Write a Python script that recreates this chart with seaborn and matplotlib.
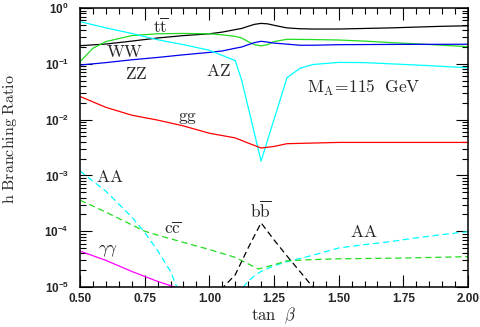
import numpy as np
import matplotlib
matplotlib.use("Agg")
import matplotlib.pyplot as plt
from matplotlib.ticker import MultipleLocator, LogLocator, NullFormatter, FormatStrFormatter
import seaborn as sns

# h branching ratios vs tan(beta), M_A = 115 GeV
tt_x = [0.50, 0.60, 0.70, 0.80, 0.90, 1.00, 1.05, 1.10, 1.125, 1.15, 1.175, 1.20, 1.225, 1.25, 1.30, 1.35, 1.40, 1.50, 1.60, 1.70, 1.80, 1.90, 2.00]
tt_y = [0.211, 0.226, 0.255, 0.29, 0.32, 0.345, 0.37, 0.41, 0.43, 0.47, 0.51, 0.53, 0.52, 0.49, 0.44, 0.425, 0.42, 0.42, 0.43, 0.44, 0.455, 0.47, 0.48]

ww_x = [0.50, 0.55, 0.60, 0.70, 0.80, 0.90, 1.00, 1.05, 1.10, 1.125, 1.15, 1.175, 1.20, 1.225, 1.25, 1.30, 1.40, 1.50, 1.60, 1.70, 1.80, 1.90, 2.00]
ww_y = [0.109, 0.19, 0.25, 0.32, 0.345, 0.35, 0.345, 0.33, 0.31, 0.29, 0.25, 0.22, 0.21, 0.22, 0.25, 0.275, 0.272, 0.267, 0.255, 0.24, 0.228, 0.215, 0.203]

zz_x = [0.50, 0.60, 0.70, 0.80, 0.90, 1.00, 1.05, 1.10, 1.125, 1.15, 1.175, 1.20, 1.225, 1.25, 1.30, 1.35, 1.40, 1.50, 1.75, 2.00]
zz_y = [0.095, 0.105, 0.118, 0.13, 0.145, 0.16, 0.17, 0.19, 0.20, 0.22, 0.24, 0.253, 0.245, 0.235, 0.225, 0.215, 0.215, 0.22, 0.223, 0.224]

az_x = [0.50, 0.60, 0.70, 0.80, 0.90, 1.00, 1.10, 1.125, 1.20, 1.30, 1.35, 1.40, 1.50, 1.60, 1.70, 1.80, 1.90, 2.00]
az_y = [0.57, 0.44, 0.35, 0.27, 0.22, 0.175, 0.114, 0.051, 0.0018, 0.056, 0.083, 0.097, 0.106, 0.105, 0.10, 0.095, 0.09, 0.085]

gg_x = [0.50, 0.60, 0.70, 0.80, 0.90, 1.00, 1.10, 1.15, 1.20, 1.25, 1.30, 1.40, 1.50, 1.75, 2.00]
gg_y = [0.026, 0.0166, 0.012, 0.0098, 0.0077, 0.0057, 0.0047, 0.0038, 0.0031, 0.0033, 0.0037, 0.0038, 0.0039, 0.0039, 0.0039]

aa_left_x = [0.50, 0.60, 0.70, 0.75, 0.80, 0.85, 0.90]
aa_left_y = [1.2e-3, 5.2e-4, 1.8e-4, 9.5e-5, 4.5e-5, 1.9e-5, 5e-6]
aa_right_x = [1.10, 1.131, 1.15, 1.175, 1.20, 1.25, 1.30, 1.40, 1.50, 1.60, 1.70, 1.80, 1.90, 2.00]
aa_right_y = [3e-6, 1e-5, 1.26e-5, 1.6e-5, 1.9e-5, 2.4e-5, 2.85e-5, 3.7e-5, 5.0e-5, 5.75e-5, 6.5e-5, 7.6e-5, 8.7e-5, 9.8e-5]

cc_x = [0.50, 0.60, 0.70, 0.75, 0.80, 0.90, 1.00, 1.10, 1.15, 1.19, 1.25, 1.30, 1.40, 1.50, 1.75, 2.00]
cc_y = [3.6e-4, 2.2e-4, 1.3e-4, 1.0e-4, 8.5e-5, 6.3e-5, 4.7e-5, 3.4e-5, 2.6e-5, 2.1e-5, 2.5e-5, 2.95e-5, 3.1e-5, 3.2e-5, 3.3e-5, 3.5e-5]

bb_x = [1.00, 1.05, 1.10, 1.15, 1.20, 1.25, 1.30, 1.35, 1.40, 1.45]
bb_y = [4.5e-6, 9.5e-6, 1.65e-5, 5e-5, 1.41e-4, 7e-5, 3.6e-5, 1.9e-5, 1e-5, 5e-6]

gamgam_x = [0.50, 0.60, 0.70, 0.80, 0.90, 1.00]
gamgam_y = [4.4e-5, 3.0e-5, 1.9e-5, 1.26e-5, 8.9e-6, 6.3e-6]

# curve labels: (text, x, y)
labels = [
    (r"$\mathrm{t\overline{t}}$", 0.813, 0.46),
    (r"$\mathrm{WW}$", 0.674, 0.163),
    (r"$\mathrm{ZZ}$", 0.716, 0.066),
    (r"$\mathrm{AZ}$", 1.033, 0.074),
    (r"$\mathrm{gg}$", 0.914, 0.0105),
    (r"$\mathrm{AA}$", 0.616, 9.5e-4),
    (r"$\mathrm{c\overline{c}}$", 0.86, 1.1e-4),
    (r"$\gamma\gamma$", 0.608, 4.4e-5),
    (r"$\mathrm{b\overline{b}}$", 1.20, 2.4e-4),
    (r"$\mathrm{AA}$", 1.598, 9.5e-5),
]
mass_label = r"$\mathrm{M_A\!=\!115\ \ GeV}$"

sns.set_style("ticks")
plt.rcParams["font.family"] = ["Liberation Sans", "DejaVu Sans"]
plt.rcParams["mathtext.fontset"] = "cm"

fig = plt.figure(figsize=(4.81, 3.27), dpi=100)
ax = fig.add_axes([80 / 481, 40 / 327, 388 / 481, 279 / 327])

lw = 0.9
dash = (0, (5, 3))
sns.lineplot(x=tt_x, y=tt_y, color="black", linewidth=lw, ax=ax)
sns.lineplot(x=ww_x, y=ww_y, color="#22dd22", linewidth=lw, ax=ax)
sns.lineplot(x=zz_x, y=zz_y, color="#0000ee", linewidth=lw, ax=ax)
sns.lineplot(x=az_x, y=az_y, color="cyan", linewidth=lw, ax=ax)
sns.lineplot(x=gg_x, y=gg_y, color="red", linewidth=lw, ax=ax)
sns.lineplot(x=gamgam_x, y=gamgam_y, color="magenta", linewidth=lw, ax=ax)
sns.lineplot(x=aa_left_x, y=aa_left_y, color="cyan", linewidth=lw, linestyle=dash, ax=ax)
sns.lineplot(x=aa_right_x, y=aa_right_y, color="cyan", linewidth=lw, linestyle=dash, ax=ax)
sns.lineplot(x=cc_x, y=cc_y, color="#22dd22", linewidth=lw, linestyle=dash, ax=ax)
sns.lineplot(x=bb_x, y=bb_y, color="black", linewidth=lw, linestyle=dash, ax=ax)

ax.set_yscale("log")
ax.set_xlim(0.5, 2.0)
ax.set_ylim(1e-5, 1)
ax.xaxis.set_major_locator(MultipleLocator(0.25))
ax.xaxis.set_minor_locator(MultipleLocator(0.05))
ax.xaxis.set_major_formatter(FormatStrFormatter("%.2f"))
ax.yaxis.set_major_locator(LogLocator(base=10, numticks=10))
ax.yaxis.set_minor_locator(LogLocator(base=10, subs=np.arange(2, 10), numticks=20))
ax.yaxis.set_minor_formatter(NullFormatter())

ax.tick_params(which="both", direction="in", top=True, right=True, width=0.8, color="black")
ax.tick_params(which="major", length=8.5)
ax.tick_params(which="minor", length=4)
ax.tick_params(axis="x", which="major", pad=4, labelsize=8.5)
ax.tick_params(axis="y", which="major", pad=8, labelsize=8.5)
for t in ax.get_xticklabels() + ax.get_yticklabels():
    t.set_fontweight("bold")
for s in ax.spines.values():
    s.set_linewidth(1.1)
    s.set_color("black")

for txt, x, y in labels:
    ax.text(x, y, txt, fontsize=12.5, ha="center", va="center")
ax.text(1.377, 0.0368, mass_label, fontsize=12.5, ha="left", va="center")

ax.set_xlabel(r"$\mathrm{tan}\ \ \beta$", fontsize=12, labelpad=1)
ax.set_ylabel(r"$\mathrm{h\ Branching\ Ratio}$", fontsize=11.5)
ax.yaxis.set_label_coords(-0.158, 0.53)

fig.savefig("out.png", dpi=100)
